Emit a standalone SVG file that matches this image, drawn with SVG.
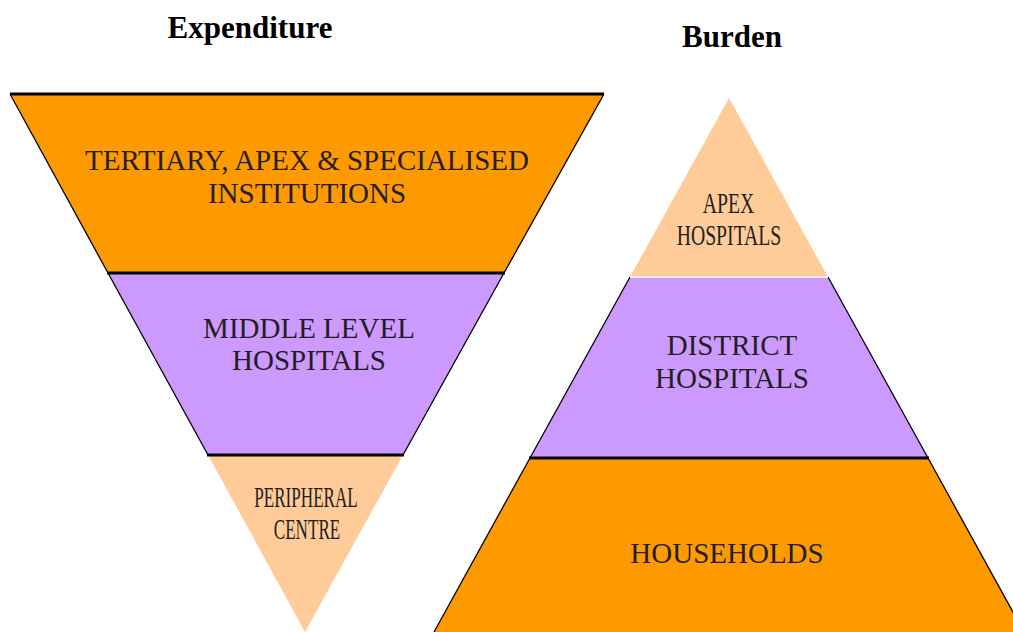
<svg xmlns="http://www.w3.org/2000/svg" width="1013" height="632" viewBox="0 0 1013 632">
  <style>
    .orange { fill: #FF9900; }
    .purple { fill: #CC99FF; }
    .peach { fill: #FFCC99; }
    .side { stroke: #000; stroke-width: 1.3; fill: none; }
    .divider { stroke: #000; stroke-width: 3; }
    .label { font-family: "Liberation Serif", "Times New Roman", serif; font-size: 29px; fill: #231F20; text-anchor: middle; }
    .title { font-family: "Liberation Serif", "Times New Roman", serif; font-size: 31px; font-weight: bold; fill: #000; text-anchor: middle; }
  </style>
  <rect width="1013" height="632" fill="#fff"/>

  <text class="title" x="250" y="38">Expenditure</text>
  <text class="title" x="732" y="47">Burden</text>

  <!-- Expenditure: inverted pyramid -->
  <g id="tertiary">
    <polygon class="orange" points="10,94 604,94 504,273 108,273"/>
    <polyline class="side" points="108,273 10,94"/>
    <polyline class="side" points="604,94 504,273"/>
    <text class="label" x="307" y="170">TERTIARY, APEX &amp; SPECIALISED</text>
    <text class="label" x="307" y="203">INSTITUTIONS</text>
  </g>
  <g id="middle-level">
    <polygon class="purple" points="108,273 504,273 403,455 208,455"/>
    <polyline class="side" points="108,273 208,455"/>
    <polyline class="side" points="504,273 403,455"/>
    <text class="label" x="309" y="338">MIDDLE LEVEL</text>
    <text class="label" x="309" y="370">HOSPITALS</text>
  </g>
  <g id="peripheral">
    <polygon class="peach" points="208,455 403,455 305,632"/>
    <text class="label" transform="translate(306,507) scale(0.59,1)" x="0" y="0">PERIPHERAL</text>
    <text class="label" transform="translate(307,539) scale(0.59,1)" x="0" y="0">CENTRE</text>
  </g>

  <!-- Burden: upright pyramid -->
  <g id="apex">
    <polygon class="peach" points="729,98 828,277 630,277"/>
    <text class="label" transform="translate(728.5,213) scale(0.68,1)" x="0" y="0">APEX</text>
    <text class="label" transform="translate(729,245) scale(0.68,1)" x="0" y="0">HOSPITALS</text>
  </g>
  <g id="district">
    <polygon class="purple" points="630,277 828,277 928,458 530,458"/>
    <polyline class="side" points="630,277 530,458"/>
    <polyline class="side" points="828,277 928,458"/>
    <text class="label" x="732" y="355">DISTRICT</text>
    <text class="label" x="732" y="387.5">HOSPITALS</text>
  </g>
  <g id="households">
    <polygon class="orange" points="530,458 928,458 1024,632 434,632"/>
    <polyline class="side" points="530,458 434,632"/>
    <polyline class="side" points="928,458 1024,632"/>
    <text class="label" x="727" y="563">HOUSEHOLDS</text>
  </g>

  <!-- tier dividers -->
  <g id="connectors">
    <line class="divider" x1="10" y1="94" x2="604" y2="94"/>
    <line class="divider" x1="107" y1="273" x2="505" y2="273"/>
    <line class="divider" x1="207" y1="455" x2="404" y2="455"/>
    <line x1="630" y1="277" x2="828" y2="277" stroke="#fff" stroke-width="1.5"/>
    <line class="divider" x1="529" y1="458" x2="929" y2="458"/>
  </g>
</svg>
